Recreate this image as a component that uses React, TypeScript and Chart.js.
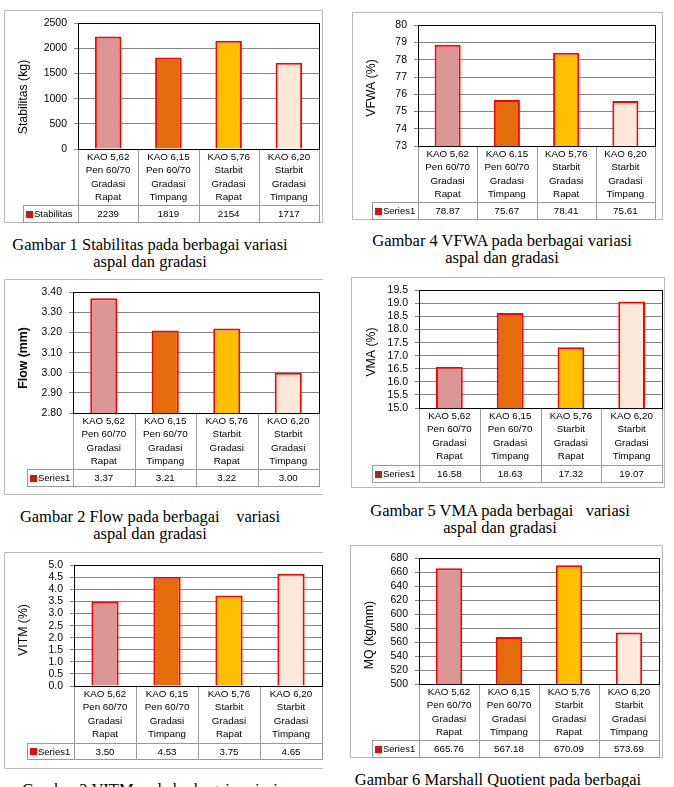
import React, { useEffect, useRef } from "react";
import { Chart, registerables } from "chart.js";

Chart.register(...registerables);

// ---------- data ----------
const categories = [
  ["KAO 5,62", "Pen 60/70", "Gradasi", "Rapat"],
  ["KAO 6,15", "Pen 60/70", "Gradasi", "Timpang"],
  ["KAO 5,76", "Starbit", "Gradasi", "Rapat"],
  ["KAO 6,20", "Starbit", "Gradasi", "Timpang"],
];
const stabilitasValues = [2239, 1819, 2154, 1717];
const flowValues = [3.37, 3.21, 3.22, 3.0];
const vitmValues = [3.5, 4.53, 3.75, 4.65];
const vfwaValues = [78.87, 75.67, 78.41, 75.61];
const vmaValues = [16.58, 18.63, 17.32, 19.07];
const mqValues = [665.76, 567.18, 670.09, 573.69];

// ---------- styles ----------
const barFills = ["#D99694", "#E46C0A", "#FFC000", "#FDE9D9"];
const SANS = "'Liberation Sans', Arial, sans-serif";
const SERIF = "'Liberation Serif', 'Times New Roman', serif";

type Panel = {
  values: number[];
  series: string;
  decimals: number;
  tickDecimals: number;
  min: number;
  max: number;
  step: number;
  yTitle: string;
  yTitleBold?: boolean;
  box: [number, number, number, number];
  plot: [number, number, number, number];
  table: [number, number];
  legendLeft: number;
  title: [number, number];
  noRight?: boolean;
  caption: { lines: string[]; cx: number; top: number };
};

const panels: Panel[] = [
  {
    values: stabilitasValues, series: "Stabilitas", decimals: 0, tickDecimals: 0,
    min: 0, max: 2500, step: 500, yTitle: "Stabilitas (kg)",
    box: [4, 10, 319, 213], plot: [78, 18, 319, 149], table: [205, 223], legendLeft: 23,
    title: [24, 97],
    caption: { lines: ["Gambar 1 Stabilitas pada berbagai variasi", "aspal dan gradasi"], cx: 150, top: 236 },
  },
  {
    values: flowValues, series: "Series1", decimals: 2, tickDecimals: 2,
    min: 2.8, max: 3.4, step: 0.1, yTitle: "Flow (mm)", yTitleBold: true,
    box: [4, 279, 319, 216], plot: [73, 290, 319, 413], table: [469, 487], legendLeft: 27,
    title: [24, 358], noRight: true,
    caption: { lines: ["Gambar 2 Flow pada berbagai    variasi", "aspal dan gradasi"], cx: 150, top: 508 },
  },
  {
    values: vitmValues, series: "Series1", decimals: 2, tickDecimals: 1,
    min: 0, max: 5, step: 0.5, yTitle: "VITM (%)",
    box: [4, 552, 319, 217], plot: [74, 563, 322, 686], table: [743, 760], legendLeft: 27,
    title: [24, 630], noRight: true,
    caption: { lines: ["Gambar 3 VITM pada berbagai variasi", "aspal dan gradasi"], cx: 150, top: 781 },
  },
  {
    values: vfwaValues, series: "Series1", decimals: 2, tickDecimals: 0,
    min: 73, max: 80, step: 1, yTitle: "VFWA (%)",
    box: [352, 12, 311, 208], plot: [418, 18, 655, 146], table: [202, 220], legendLeft: 372,
    title: [372, 88],
    caption: { lines: ["Gambar 4 VFWA pada berbagai variasi", "aspal dan gradasi"], cx: 502, top: 232 },
  },
  {
    values: vmaValues, series: "Series1", decimals: 2, tickDecimals: 1,
    min: 15, max: 19.5, step: 0.5, yTitle: "VMA (%)",
    box: [351, 277, 314, 211], plot: [419, 287, 662, 408], table: [465, 483], legendLeft: 372,
    title: [372, 352],
    caption: { lines: ["Gambar 5 VMA pada berbagai   variasi", "aspal dan gradasi"], cx: 500, top: 502 },
  },
  {
    values: mqValues, series: "Series1", decimals: 2, tickDecimals: 0,
    min: 500, max: 680, step: 20, yTitle: "MQ (kg/mm)",
    box: [350, 545, 313, 213], plot: [419, 553, 659, 684], table: [740, 758], legendLeft: 372,
    title: [370, 635],
    caption: { lines: ["Gambar 6 Marshall Quotient pada berbagai"], cx: 498, top: 771 },
  },
];

const tablePlugin = {
  id: "dataTable",
  afterDraw(chart: any) {
    const o = chart.options.plugins.dataTable;
    const { ctx } = chart;
    const { left, right, top, bottom } = chart.chartArea;
    const x = chart.scales.x;
    const n = chart.data.labels.length;
    const half = (x.getPixelForValue(1) - x.getPixelForValue(0)) / 2;
    const r = (v: number) => Math.round(v) + 0.5;
    const W = chart.width;
    const H = chart.height;
    ctx.save();
    ctx.lineWidth = 1;

    // outer chart border
    ctx.strokeStyle = "#b8b8b8";
    ctx.beginPath();
    ctx.moveTo(W - 0.5, 0.5);
    ctx.lineTo(0.5, 0.5);
    ctx.lineTo(0.5, H - 0.5);
    ctx.lineTo(W - 0.5, H - 0.5);
    if (!o.noRight) ctx.lineTo(W - 0.5, 0.5);
    ctx.stroke();

    // data table lines
    ctx.strokeStyle = "#9a9a9a";
    ctx.beginPath();
    for (let i = 0; i <= n; i++) {
      const bx = i < n ? x.getPixelForValue(i) - half : x.getPixelForValue(n - 1) + half;
      ctx.moveTo(r(bx), bottom);
      ctx.lineTo(r(bx), o.tableBottom);
    }
    ctx.moveTo(r(o.legendLeft), o.tableTop);
    ctx.lineTo(r(o.legendLeft), o.tableBottom);
    ctx.moveTo(o.legendLeft, r(o.tableTop));
    ctx.lineTo(right, r(o.tableTop));
    ctx.moveTo(o.legendLeft, r(o.tableBottom - 1));
    ctx.lineTo(right, r(o.tableBottom - 1));
    ctx.stroke();

    // values
    const midY = (o.tableTop + o.tableBottom) / 2 + 0.5;
    ctx.fillStyle = "#000";
    ctx.font = `9.8px ${SANS}`;
    ctx.textAlign = "center";
    ctx.textBaseline = "middle";
    const data = chart.data.datasets[0].data;
    for (let i = 0; i < n; i++) {
      ctx.fillText(Number(data[i]).toFixed(o.decimals), x.getPixelForValue(i), midY);
    }

    // legend key
    const ky = Math.round(midY - 4);
    ctx.fillStyle = "#B22222";
    ctx.fillRect(o.legendLeft + 3, ky, 7, 7);
    ctx.strokeStyle = "#FF0000";
    ctx.strokeRect(o.legendLeft + 3.5, ky + 0.5, 6, 6);
    ctx.fillStyle = "#000";
    ctx.textAlign = "left";
    ctx.font = `9.5px ${SANS}`;
    ctx.fillText(chart.data.datasets[0].label, o.legendLeft + 11, midY);

    // plot frame
    ctx.strokeStyle = "#000";
    ctx.strokeRect(r(left), r(top), Math.round(right - left), Math.round(bottom - top));

    // y title
    ctx.save();
    ctx.translate(o.titleX, o.titleY);
    ctx.rotate(-Math.PI / 2);
    ctx.font = `${o.titleBold ? "bold " : ""}12.3px ${SANS}`;
    ctx.textAlign = "center";
    ctx.textBaseline = "middle";
    ctx.fillText(o.title, 0, 0);
    ctx.restore();

    ctx.restore();
  },
};

function ChartPanel({ p }: { p: Panel }) {
  const ref = useRef<HTMLCanvasElement | null>(null);
  useEffect(() => {
    if (!ref.current) return;
    const [bx, by, w, h] = p.box;
    const [pl, pt, pr, pb] = p.plot;
    const chart = new Chart(ref.current, {
      type: "bar",
      data: {
        labels: categories,
        datasets: [
          {
            label: p.series,
            data: p.values,
            backgroundColor: barFills,
            borderColor: "#FF0000",
            borderWidth: 2,
            barPercentage: 0.44,
            categoryPercentage: 1,
          },
        ],
      },
      options: {
        responsive: false,
        animation: false,
        devicePixelRatio: 1,
        layout: { padding: { left: 0, top: pt - by, right: bx + w - pr, bottom: 0 } },
        plugins: {
          legend: { display: false },
          tooltip: { enabled: false },
          dataTable: {
            tableTop: p.table[0] - by,
            tableBottom: p.table[1] - by,
            legendLeft: p.legendLeft - bx,
            decimals: p.decimals,
            noRight: !!p.noRight,
            title: p.yTitle,
            titleBold: !!p.yTitleBold,
            titleX: p.title[0] - bx,
            titleY: p.title[1] - by,
          },
        } as any,
        scales: {
          x: {
            grid: { display: false, drawTicks: false },
            border: { display: false },
            ticks: {
              autoSkip: false,
              maxRotation: 0,
              minRotation: 0,
              padding: 2,
              color: "#000",
              font: { family: SANS, size: 9.8, lineHeight: 1.34 },
            },
            afterFit: (s: any) => {
              s.height = by + h - pb;
            },
          },
          y: {
            min: p.min,
            max: p.max,
            ticks: {
              stepSize: p.step,
              autoSkip: false,
              padding: 7,
              color: "#000",
              font: { family: SANS, size: 10.5 },
              callback: (v: any) => Number(v).toFixed(p.tickDecimals),
            },
            grid: { color: "#868686", tickLength: 4, drawTicks: true },
            border: { display: true, color: "#000" },
            afterFit: (s: any) => {
              s.width = pl - bx;
            },
          },
        },
      },
      plugins: [tablePlugin],
    });
    return () => chart.destroy();
  }, [p]);
  const [bx, by, w, h] = p.box;
  return (
    <>
      <canvas
        ref={ref}
        width={w}
        height={h}
        style={{ position: "absolute", left: bx, top: by, width: w, height: h }}
      />
      <div
        style={{
          position: "absolute",
          left: p.caption.cx - 170,
          top: p.caption.top,
          width: 340,
          textAlign: "center",
          fontFamily: SERIF,
          fontSize: 16.5,
          lineHeight: "17px",
          whiteSpace: "pre",
          color: "#000",
        }}
      >
        {p.caption.lines.map((l, i) => (
          <div key={i}>{l}</div>
        ))}
      </div>
    </>
  );
}

export default function App() {
  return (
    <div
      style={{
        position: "absolute",
        left: 0,
        top: 0,
        width: 674,
        height: 787,
        overflow: "hidden",
        background: "#fff",
      }}
    >
      {panels.map((p, i) => (
        <ChartPanel key={i} p={p} />
      ))}
    </div>
  );
}
